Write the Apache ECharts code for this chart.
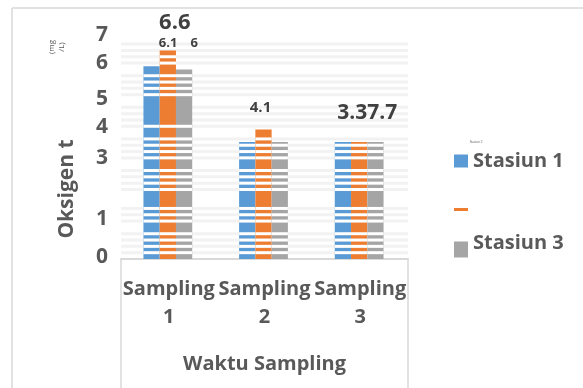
<!DOCTYPE html>
<html>
<head>
<meta charset="utf-8">
<script src="https://cdn.jsdelivr.net/npm/echarts@6/dist/echarts.min.js"></script>
<style>
  html, body { margin: 0; padding: 0; background: #ffffff; }
  #chart { width: 583px; height: 388px; }
</style>
</head>
<body>
<div id="chart"></div>
<script>
// ---- data ----
const categories = ['Sampling\n1', 'Sampling\n2', 'Sampling\n3'];
const seriesNames = ['Stasiun 1', 'Stasiun 2', 'Stasiun 3'];
const stasiun1 = [6.1, 3.7, 3.7];
const stasiun2 = [6.6, 4.1, 3.7];
const stasiun3 = [6.0, 3.7, 3.7];
const stasiun1Labels = ['6.1', '', ''];
const stasiun2Labels = ['6.6', '4.1', '3.37.7'];
const stasiun3Labels = ['6', '', ''];
const yTickLabels = ['0', '1', '', '3', '4', '5', '6', '7'];
// light horizontal rules behind the bars
const gridLevels = [0.2, 0.4, 0.6, 0.8, 1.2, 1.4, 1.6, 2.2, 2.4, 2.6, 2.8, 3.2, 3.4, 3.6, 3.8,
  4.2, 4.4, 4.6, 4.8, 5.2, 5.4, 5.6, 5.8, 6.2, 6.4, 6.6, 6.8];
// white breaks cut through the bars
const barBreakLevels = [0.2, 0.4, 0.6, 0.8, 1.2, 1.4, 1.6, 2.2, 2.4, 2.6, 2.8, 3.2, 3.4, 3.6, 3.8,
  4.2, 5.2, 5.4, 5.6, 5.8, 6.2, 6.4];

// ---- styling ----
const FONT = '"Open Sans", "Noto Sans", sans-serif';
const colors = ['#5b9bd5', '#ed7d31', '#a5a5a5'];
const textDark = '#404040';
const textAxis = '#595959';
const frameColor = '#d9d9d9';

// label placement per series / category: [dx, dy, fontSize]
const labelPlacement = [
  [[16.5, -23, 13], null, null],
  [[7, -28, 22], [-3, -22, 15], [8, -29.5, 21]],
  [[10, -26, 13], null, null]
];
// vertical nudges of the value-axis labels
const yLabelLift = { '0': 1.5, '1': 8.4, '2': 0, '3': 5.7, '4': 5.6, '5': 1.5, '6': 6.4, '7': 2.3 };

const valueSets = [stasiun1, stasiun2, stasiun3];
const labelSets = [stasiun1Labels, stasiun2Labels, stasiun3Labels];

function makeBarRenderer(si) {
  return function (params, api) {
    const cat = api.value(0);
    const val = api.value(1);
    const band = api.size([1, 0])[0];
    const barW = band * 0.17;
    const basePt = api.coord([cat, 0]);
    const topPt = api.coord([cat, val]);
    const cx = basePt[0] - 1 + (si - 1) * barW;
    const x0 = cx - barW / 2;
    const children = [{
      type: 'rect',
      shape: { x: x0, y: topPt[1], width: barW, height: basePt[1] - topPt[1] },
      style: { fill: colors[si] }
    }];
    barBreakLevels.forEach(function (lv) {
      if (lv < val - 0.05) {
        const y = api.coord([cat, lv])[1];
        children.push({
          type: 'rect',
          shape: { x: x0, y: y - 1.5, width: barW, height: 3 },
          style: { fill: '#ffffff' }
        });
      }
    });
    const txt = labelSets[si][params.dataIndex];
    const place = labelPlacement[si][params.dataIndex];
    if (txt && place) {
      children.push({
        type: 'text',
        x: cx + place[0],
        y: topPt[1] + place[1],
        style: {
          text: txt,
          fill: textDark,
          fontSize: place[2],
          fontWeight: 'bold',
          fontFamily: FONT,
          align: 'center',
          verticalAlign: 'middle'
        }
      });
    }
    return { type: 'group', children: children };
  };
}

const yRich = {};
Object.keys(yLabelLift).forEach(function (k) {
  yRich['s' + k] = {
    fontSize: 21, fontWeight: 'bold', fontFamily: FONT, color: textAxis,
    padding: [0, 0, yLabelLift[k] * 2, 0]
  };
});

const chart = echarts.init(document.getElementById('chart'), null, { renderer: 'canvas' });

const barSeries = seriesNames.map(function (name, si) {
  return {
    name: name,
    type: 'custom',
    z: 3,
    color: colors[si],
    itemStyle: { color: colors[si] },
    encode: { x: 0, y: 1 },
    data: valueSets[si].map(function (v, ci) { return [ci, v]; }),
    renderItem: makeBarRenderer(si)
  };
});

const gridSeries = {
  name: 'rules',
  type: 'custom',
  z: 1,
  silent: true,
  encode: { x: 0, y: 1 },
  data: gridLevels.map(function (lv) { return [0, lv]; }),
  renderItem: function (params, api) {
    const cs = params.coordSys;
    const y = api.coord([0, api.value(1)])[1];
    return {
      type: 'rect',
      shape: { x: cs.x, y: y - 1.5, width: cs.width, height: 3 },
      style: { fill: '#f2f2f2' }
    };
  }
};

const legendText = { fontSize: 20, fontWeight: 'bold', fontFamily: FONT, color: textAxis };

const option = {
  animation: false,
  backgroundColor: '#ffffff',
  grid: { left: 121, right: 175, top: 37.8, bottom: 129, containLabel: false },
  xAxis: {
    type: 'category',
    data: categories,
    boundaryGap: true,
    axisLine: { show: true, lineStyle: { color: frameColor, width: 2 } },
    axisTick: { show: false },
    splitLine: { show: false },
    axisLabel: {
      interval: 0,
      hideOverlap: false,
      margin: 16,
      fontSize: 20,
      fontWeight: 'bold',
      fontFamily: FONT,
      color: textAxis,
      lineHeight: 28
    },
    name: 'Waktu Sampling',
    nameLocation: 'middle',
    nameGap: 95,
    nameTextStyle: { fontSize: 20, fontWeight: 'bold', fontFamily: FONT, color: textAxis }
  },
  yAxis: {
    type: 'value',
    min: 0,
    max: 7,
    interval: 1,
    axisLine: { show: false },
    axisTick: { show: false },
    splitLine: { show: false },
    axisLabel: {
      margin: 13,
      formatter: function (v) {
        const t = yTickLabels[Math.round(v)];
        return t ? '{s' + Math.round(v) + '|' + t + '}' : '';
      },
      rich: yRich
    }
  },
  legend: [
    {
      data: [{ name: 'Stasiun 1', icon: 'rect' }],
      left: 449, top: 146, itemWidth: 14, itemHeight: 13, itemGap: 0,
      textStyle: legendText,
      selectedMode: false
    },
    {
      data: [{ name: 'Stasiun 2', icon: 'rect' }],
      left: 449, top: 203, itemWidth: 14, itemHeight: 3, itemGap: 0,
      formatter: function () { return ''; },
      textStyle: { fontSize: 10 },
      selectedMode: false
    },
    {
      data: [{ name: 'Stasiun 3', icon: 'rect' }],
      left: 449, top: 228, itemWidth: 14, itemHeight: 16, itemGap: 0,
      formatter: function (n) { return '{t|' + n + '}'; },
      textStyle: Object.assign({}, legendText, {
        rich: { t: Object.assign({}, legendText, { padding: [0, 0, 13, 0] }) }
      }),
      selectedMode: false
    }
  ],
  graphic: [
    { type: 'line', shape: { x1: 12, y1: 8, x2: 583, y2: 8 }, style: { stroke: frameColor, lineWidth: 1.5 }, silent: true },
    { type: 'line', shape: { x1: 12, y1: 8, x2: 12, y2: 388 }, style: { stroke: frameColor, lineWidth: 1.5 }, silent: true },
    { type: 'line', shape: { x1: 121, y1: 259, x2: 121, y2: 388 }, style: { stroke: frameColor, lineWidth: 1.5 }, silent: true },
    { type: 'line', shape: { x1: 408, y1: 259, x2: 408, y2: 388 }, style: { stroke: frameColor, lineWidth: 1.5 }, silent: true },
    {
      type: 'text', x: 67, y: 189, rotation: Math.PI / 2,
      style: { text: 'Oksigen t', fontSize: 21, fontWeight: 'bold', fontFamily: FONT, fill: textAxis, align: 'center', verticalAlign: 'middle' },
      silent: true
    },
    {
      type: 'text', x: 57, y: 47, rotation: Math.PI / 2,
      style: { text: '(mg\n/L)', fontSize: 8, lineHeight: 10, fontFamily: FONT, fill: textAxis, align: 'center', verticalAlign: 'middle' },
      silent: true
    },
    {
      type: 'text', x: 476, y: 142,
      style: { text: 'Stasiun 2', fontSize: 3, fontFamily: FONT, fill: textAxis, align: 'center', verticalAlign: 'middle' },
      silent: true
    }
  ],
  series: [gridSeries].concat(barSeries)
};

chart.setOption(option);
</script>
</body>
</html>
